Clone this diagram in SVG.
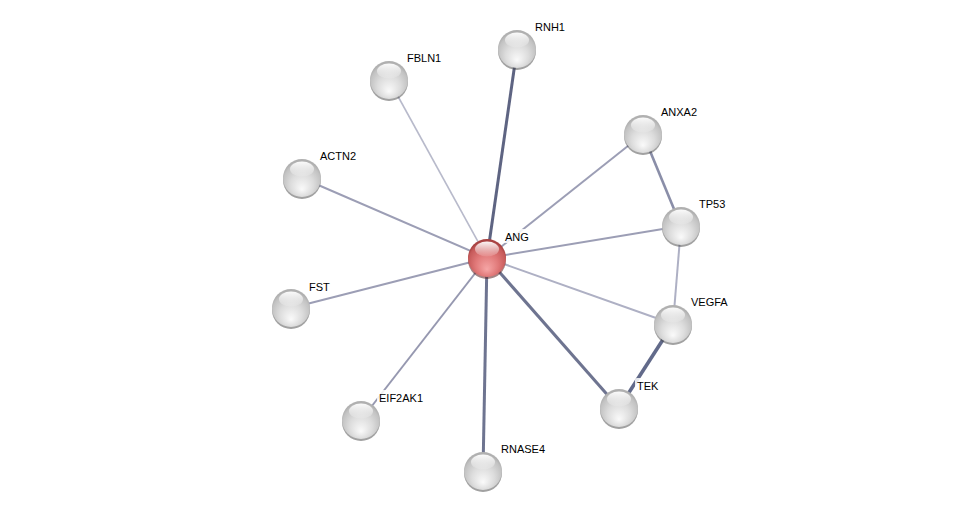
<svg xmlns="http://www.w3.org/2000/svg" width="976" height="516" viewBox="0 0 976 516">
<defs>
<radialGradient id="gw" cx="0.5" cy="0.6" r="0.55" fx="0.5" fy="0.8">
<stop offset="0" stop-color="#fafafa"/>
<stop offset="0.55" stop-color="#dcdcdc"/>
<stop offset="0.9" stop-color="#c2c2c2"/>
<stop offset="1" stop-color="#b0b0b0"/>
</radialGradient>
<radialGradient id="gr" cx="0.5" cy="0.6" r="0.55" fx="0.5" fy="0.8">
<stop offset="0" stop-color="#f6a6a6"/>
<stop offset="0.55" stop-color="#e07878"/>
<stop offset="0.9" stop-color="#c65a5a"/>
<stop offset="1" stop-color="#a84242"/>
</radialGradient>
<linearGradient id="hl" x1="0" y1="0" x2="0" y2="1">
<stop offset="0" stop-color="#ffffff" stop-opacity="0.95"/>
<stop offset="1" stop-color="#ffffff" stop-opacity="0.1"/>
</linearGradient>
<g id="ball">
<circle cx="0" cy="2" r="19" fill="#444" opacity="0.5"/>
<circle cx="0" cy="0" r="19" fill="url(#gw)"/>
<ellipse cx="0" cy="-9" rx="12" ry="7.5" fill="url(#hl)"/>
</g>
<g id="rball">
<circle cx="0" cy="2" r="19" fill="#5a2020" opacity="0.55"/>
<circle cx="0" cy="0" r="19" fill="url(#gr)"/>
<ellipse cx="0" cy="-9" rx="12" ry="7.5" fill="url(#hl)"/>
</g>
</defs>
<style>
text{font-family:"Liberation Sans",Arial,sans-serif;font-size:11px;fill:#000}
.lb{fill:#fff;opacity:0.85}
.e{fill:none;stroke-linecap:butt}
</style>
<rect width="976" height="516" fill="#fff"/>
<g id="edges">
<line class="e" x1="487" y1="258" x2="517" y2="49" stroke="#5e6482" stroke-width="3"/>
<line class="e" x1="487" y1="258" x2="389" y2="80" stroke="#b8bacb" stroke-width="1.6"/>
<line class="e" x1="487" y1="258" x2="302" y2="178" stroke="#9c9eb5" stroke-width="2"/>
<line class="e" x1="487" y1="258" x2="291" y2="308" stroke="#9c9eb5" stroke-width="2"/>
<line class="e" x1="487" y1="258" x2="361" y2="420" stroke="#9698b0" stroke-width="2"/>
<line class="e" x1="487" y1="258" x2="483" y2="471" stroke="#6e7490" stroke-width="3"/>
<line class="e" x1="487" y1="258" x2="619" y2="408" stroke="#6e7490" stroke-width="3"/>
<line class="e" x1="487" y1="258" x2="673" y2="324" stroke="#aeb0c4" stroke-width="2"/>
<line class="e" x1="487" y1="258" x2="681" y2="226" stroke="#9c9eb5" stroke-width="2"/>
<line class="e" x1="487" y1="258" x2="643" y2="134" stroke="#9c9eb5" stroke-width="2"/>
<line class="e" x1="643" y1="134" x2="681" y2="226" stroke="#8a8ea8" stroke-width="2.6"/>
<line class="e" x1="681" y1="226" x2="673" y2="324" stroke="#aeb0c4" stroke-width="2"/>
<line class="e" x1="673" y1="324" x2="619" y2="408" stroke="#626a8a" stroke-width="3.6"/>
</g>
<g id="RNH1"><use href="#ball" x="517" y="49"/><rect class="lb" x="533" y="19" width="36" height="14" rx="2"/><text x="535" y="31">RNH1</text></g>
<g id="FBLN1"><use href="#ball" x="389" y="80"/><rect class="lb" x="405" y="50" width="41" height="14" rx="2"/><text x="407" y="62">FBLN1</text></g>
<g id="ACTN2"><use href="#ball" x="302" y="178"/><rect class="lb" x="318" y="148" width="44" height="14" rx="2"/><text x="320" y="160">ACTN2</text></g>
<g id="FST"><use href="#ball" x="291" y="308"/><rect class="lb" x="307" y="279" width="27" height="14" rx="2"/><text x="309" y="291">FST</text></g>
<g id="EIF2AK1"><use href="#ball" x="361" y="420"/><rect class="lb" x="377" y="390" width="52" height="14" rx="2"/><text x="379" y="402">EIF2AK1</text></g>
<g id="RNASE4"><use href="#ball" x="483" y="471"/><rect class="lb" x="499" y="441" width="52" height="14" rx="2"/><text x="501" y="453">RNASE4</text></g>
<g id="TEK"><use href="#ball" x="619" y="408"/><rect class="lb" x="635" y="378" width="28" height="14" rx="2"/><text x="637" y="390">TEK</text></g>
<g id="VEGFA"><use href="#ball" x="673" y="324"/><rect class="lb" x="689" y="294" width="45" height="14" rx="2"/><text x="691" y="306">VEGFA</text></g>
<g id="TP53"><use href="#ball" x="681" y="226"/><rect class="lb" x="697" y="196" width="34" height="14" rx="2"/><text x="699" y="208">TP53</text></g>
<g id="ANXA2"><use href="#ball" x="643" y="134"/><rect class="lb" x="659" y="104" width="44" height="14" rx="2"/><text x="661" y="116">ANXA2</text></g>
<g id="ANG"><use href="#rball" x="487" y="258"/><rect class="lb" x="503" y="229" width="31" height="14" rx="2"/><text x="505" y="241">ANG</text></g>
</svg>
